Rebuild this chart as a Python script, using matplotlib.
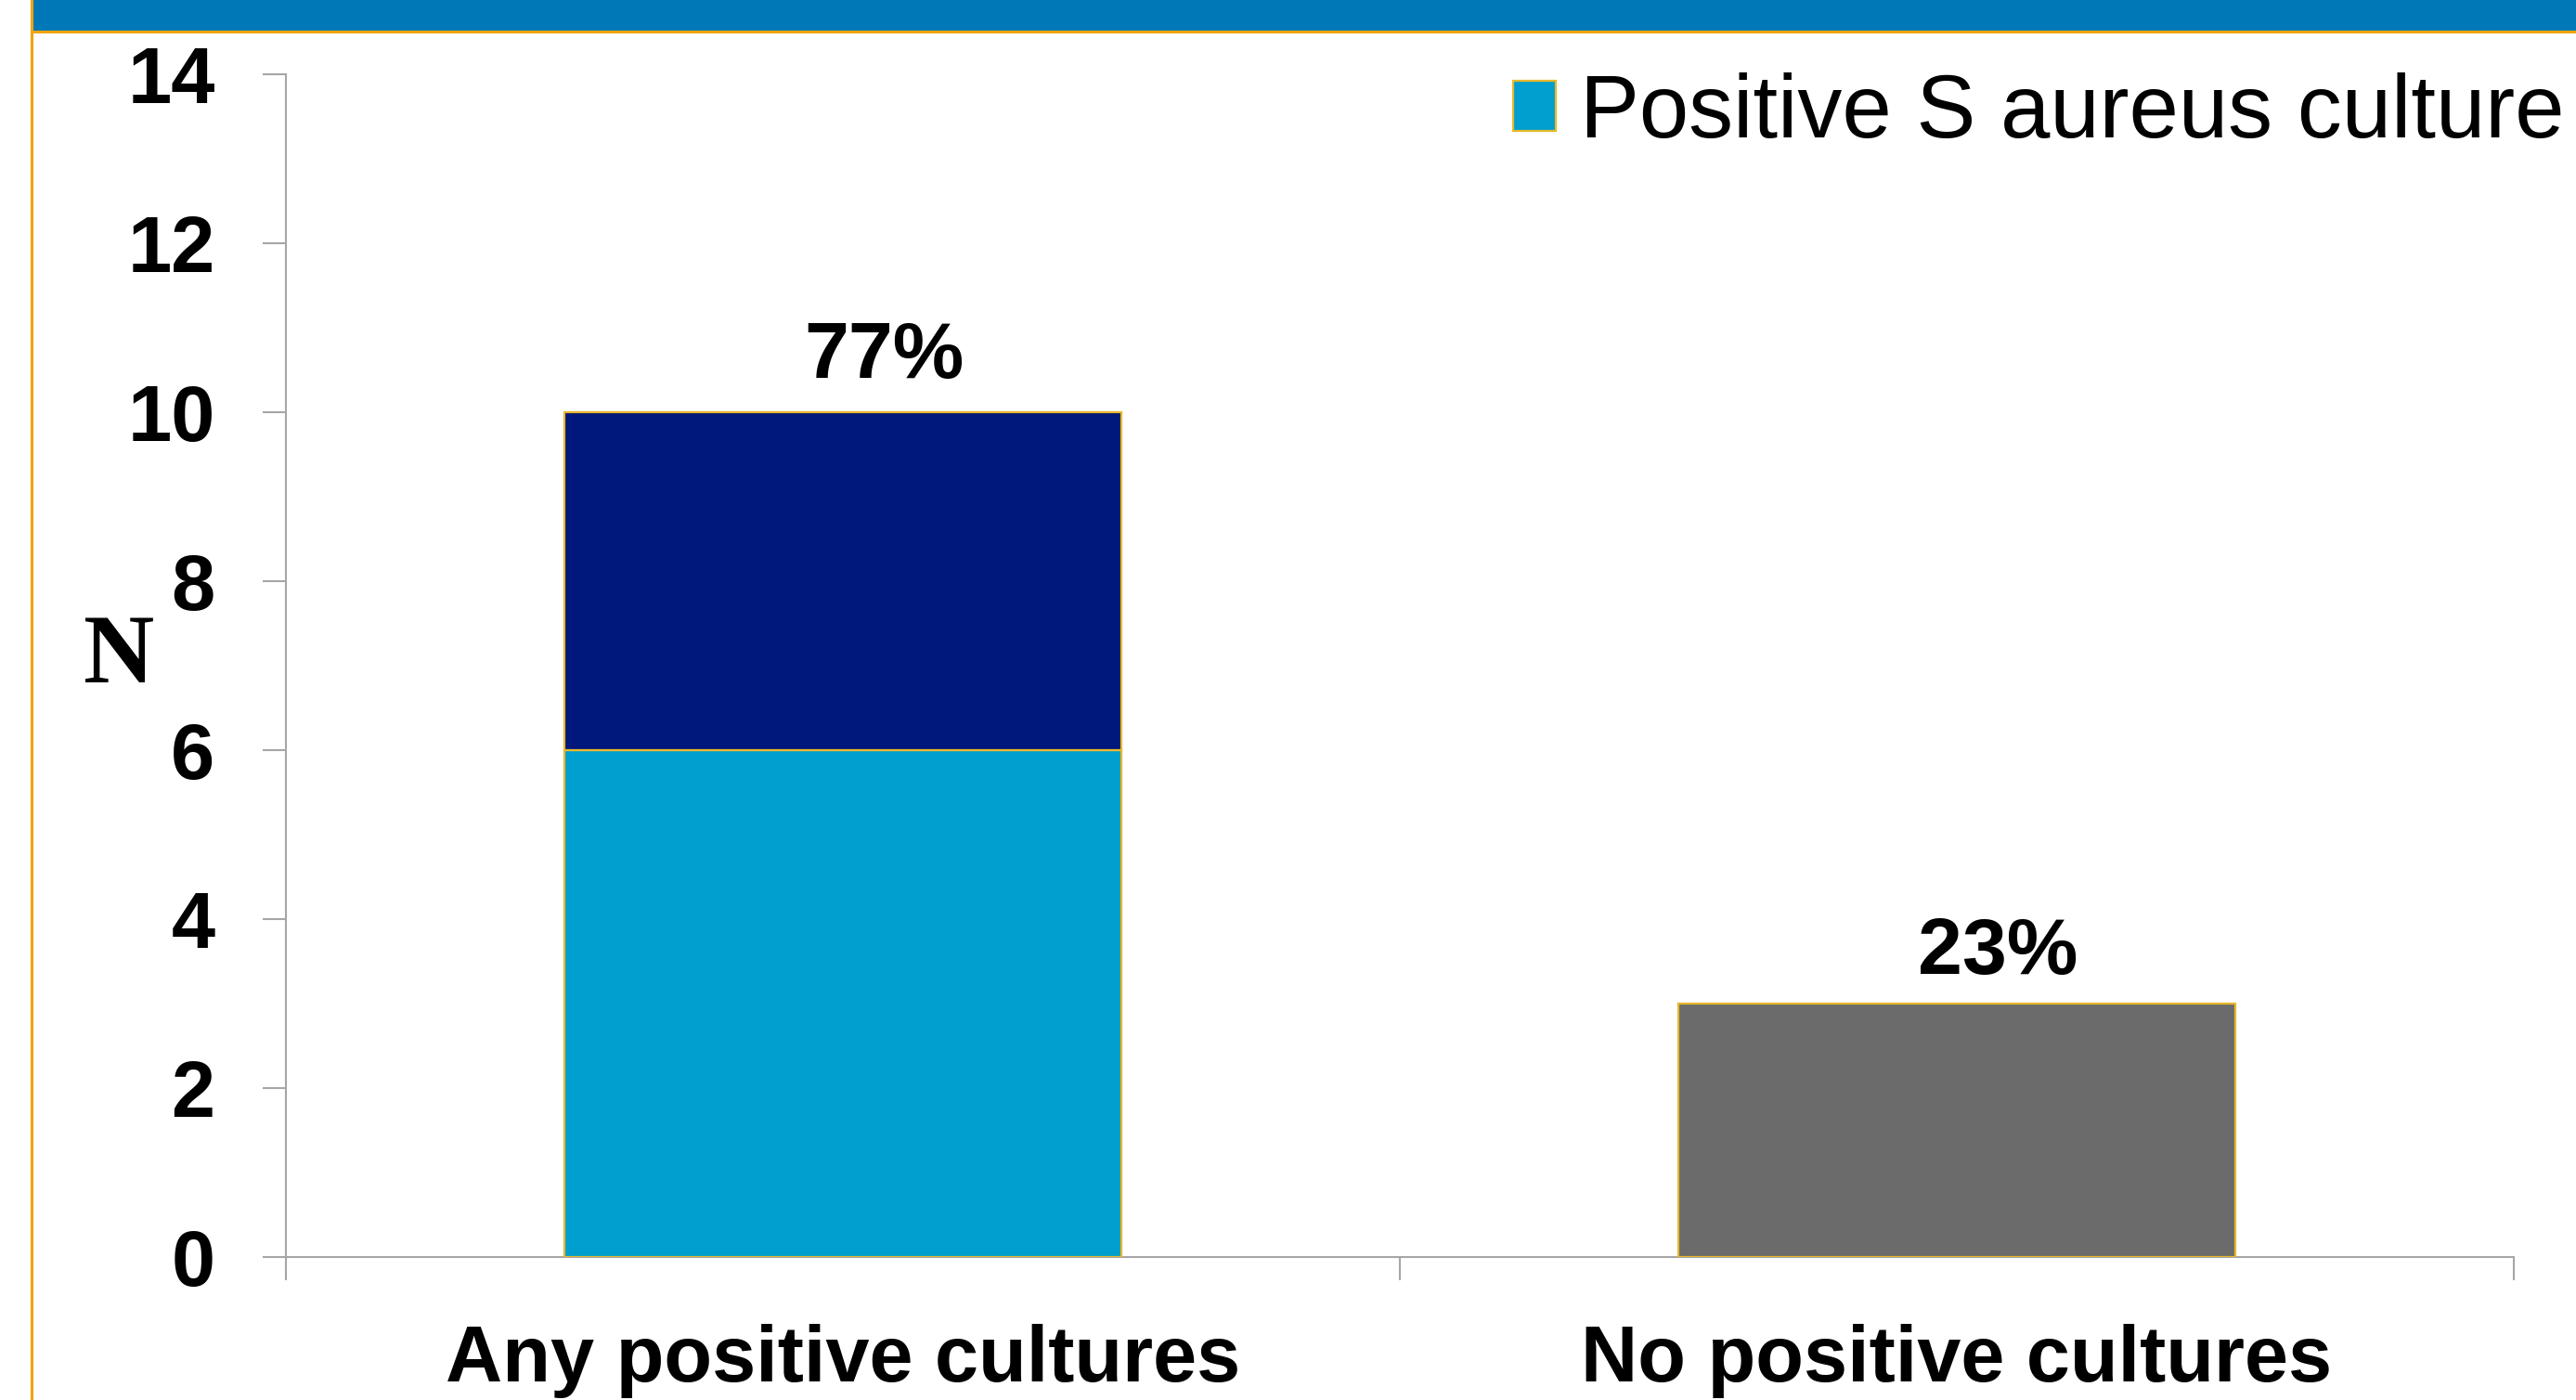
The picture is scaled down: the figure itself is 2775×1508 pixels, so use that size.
import numpy as np
import matplotlib
matplotlib.use("Agg")
import matplotlib.pyplot as plt
from matplotlib.patches import Rectangle, Patch
from matplotlib.lines import Line2D

# data
categories = ['Any positive cultures', 'No positive cultures']
s_aureus = [6, 0]
other_positive = [4, 0]
no_positive = [0, 3]
pct_labels = ['77%', '23%']
y_ticks = [0, 2, 4, 6, 8, 10, 12, 14]

# colours
c_light = '#009FCF'
c_navy = '#00177B'
c_gray = '#6B6B6B'
c_edge = '#E9B82A'
c_band = '#0078B7'
c_orange = '#F0A30A'
c_axis = '#A6A6A6'

plt.rcParams['font.family'] = ['Liberation Sans', 'DejaVu Sans']

W, H = 2775, 1508
fig = plt.figure(figsize=(W / 100, H / 100), dpi=100)
fig.patch.set_facecolor('white')

# slide decoration: blue band on top, orange rules
fig.patches.append(Rectangle((33 / W, 1 - 34 / H), 1, 34 / H, transform=fig.transFigure,
                             facecolor=c_band, edgecolor='none', zorder=0))
fig.lines.append(Line2D([34 / W, 1], [1 - 34 / H, 1 - 34 / H], transform=fig.transFigure,
                        color=c_orange, lw=2.2))
fig.lines.append(Line2D([34 / W, 34 / W], [0, 1], transform=fig.transFigure,
                        color=c_orange, lw=2.2))

ax = fig.add_axes([308 / W, 154 / H, 2400 / W, 1274 / H])
x = np.arange(len(categories))
width = 0.5

s = np.array(s_aureus, dtype=float)
o = np.array(other_positive, dtype=float)
n = np.array(no_positive, dtype=float)

m = s > 0
ax.bar(x[m], s[m], width, color=c_light, edgecolor=c_edge, linewidth=1.6, zorder=3,
       label='Positive S aureus culture')
m = o > 0
ax.bar(x[m], o[m], width, bottom=s[m], color=c_navy, edgecolor=c_edge, linewidth=1.6, zorder=3)
m = n > 0
ax.bar(x[m], n[m], width, color=c_gray, edgecolor=c_edge, linewidth=1.6, zorder=3)

totals = s + o + n
for xi, tot, lab, dy in zip(x, totals, pct_labels, [27, 23]):
    ax.annotate(lab, (xi, tot), xytext=(32, dy), textcoords='offset points',
                ha='center', va='baseline', fontsize=62, fontweight='bold')

ax.set_xlim(-0.5, len(categories) - 0.5)
ax.set_ylim(0, 14)
ax.set_yticks(y_ticks)
ax.set_yticklabels([str(t) for t in y_ticks], fontsize=61, fontweight='bold')
ax.set_xticks(np.arange(len(categories) + 1) - 0.5)
ax.set_xticklabels([])
ax.set_xticks(x, minor=True)
ax.set_xticklabels(categories, minor=True, fontsize=61, fontweight='bold')
ax.tick_params(axis='x', which='minor', length=0, pad=52)
ax.tick_params(axis='x', which='major', length=18, width=1.5, color=c_axis)
ax.tick_params(axis='y', length=18, width=1.5, color=c_axis, pad=37)

for sp in ['top', 'right']:
    ax.spines[sp].set_visible(False)
for sp in ['left', 'bottom']:
    ax.spines[sp].set_color(c_axis)
    ax.spines[sp].set_linewidth(1.5)

ax.set_ylabel('N', rotation=0, fontsize=76, fontweight='bold',
              family=['Liberation Serif', 'DejaVu Serif'], ha='center', va='center')
ax.yaxis.set_label_coords(-0.075, 0.506)

handle = Patch(facecolor=c_light, edgecolor=c_edge, linewidth=1.6)
fig.legend([handle], ['Positive S aureus culture'], loc='upper left',
           bbox_to_anchor=(1630 / W, 1 - 78 / H), frameon=False, fontsize=69,
           borderpad=0, borderaxespad=0, handlelength=0.48, handleheight=0.48,
           handletextpad=0.27)

fig.savefig('out.png', dpi=100, facecolor='white')
